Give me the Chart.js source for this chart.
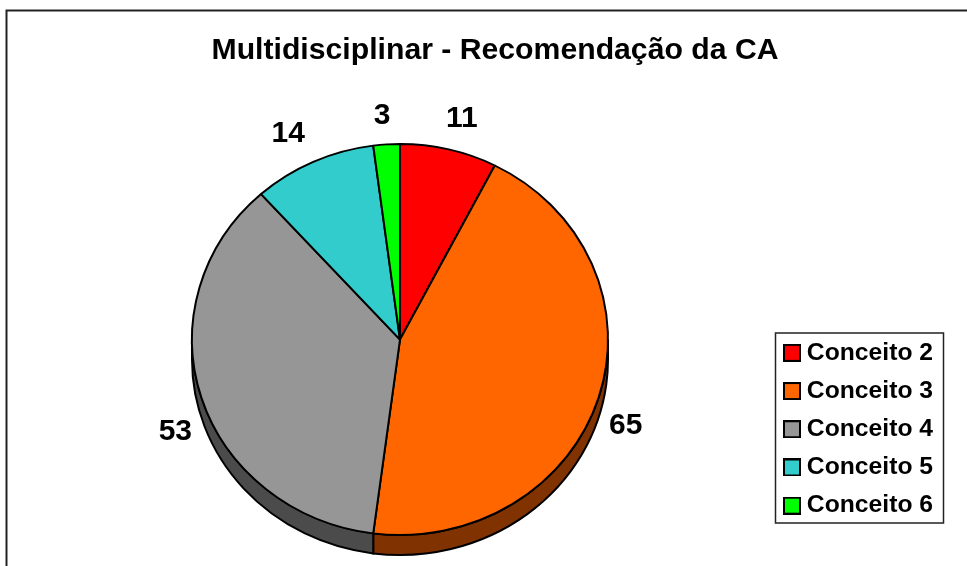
<!DOCTYPE html>
<html><head><meta charset="utf-8">
<style>html,body{margin:0;padding:0;background:#fff}#w{position:relative;width:967px;height:566px}canvas{display:block}</style>
<script src="https://cdn.jsdelivr.net/npm/chart.js@4"></script></head>
<body><div id="w"><canvas id="c" width="967" height="566"></canvas></div>
<script>
const categories=["Conceito 2","Conceito 3","Conceito 4","Conceito 5","Conceito 6"];
const values=[11,65,53,14,3];
const colors=["#ff0000","#ff6600","#969696","#33cccc","#00ff00"];
const darkColors=["#800000","#803300","#4b4b4b","#1a6666","#008000"];
const titleText="Multidisciplinar - Recomendação da CA";
const font='"Liberation Sans", Arial, sans-serif';
const labelOffsets=[[13,-31],[27,28.5],[-26,34.5],[-25,-28],[-4.5,-28.5]];
const depth=20, yScale=0.94;
function swatch(color){
  const c=document.createElement('canvas');c.width=18;c.height=18;
  const g=c.getContext('2d');
  g.fillStyle=color;g.fillRect(1,1,16,16);
  g.strokeStyle='#000';g.lineWidth=2;g.strokeRect(1,1,16,16);
  return c;
}
const decor={id:'decor',
 afterLayout(ch){
  const t=ch.titleBlock; t.left=145; t.right=845;
  const l=ch.legend; l.left=776; l.right=944; l.top=327; l.bottom=566;
 },
 beforeDraw(ch){
  const ctx=ch.ctx;
  ctx.save();
  ctx.strokeStyle='#222';ctx.lineWidth=2;
  ctx.beginPath();ctx.moveTo(6.5,566);ctx.lineTo(6.5,10.5);ctx.lineTo(967,10.5);ctx.stroke();
  ctx.lineWidth=1.5;ctx.strokeRect(775.5,333,168,190);
  ctx.restore();
 },
 beforeDatasetsDraw(ch){
  const a=ch.getDatasetMeta(0).data,ctx=ch.ctx;
  const {x,y,outerRadius:r}=a[0];
  ctx.save();
  a.forEach((e,i)=>{
    const s=Math.max(e.startAngle,0),t=Math.min(e.endAngle,Math.PI);
    if(t<=s)return;
    ctx.beginPath();
    ctx.ellipse(x,y,r,r*yScale,0,s,t);
    ctx.ellipse(x,y+depth,r,r*yScale,0,t,s,true);
    ctx.closePath();
    ctx.fillStyle=darkColors[i];ctx.fill();
    ctx.strokeStyle='#000';ctx.lineWidth=2;ctx.stroke();
  });
  ctx.restore();
  ctx.save();
  ctx.translate(0,y);ctx.scale(1,yScale);ctx.translate(0,-y);
 },
 afterDatasetsDraw(ch){
  const ctx=ch.ctx;ctx.restore();
  const a=ch.getDatasetMeta(0).data;
  ctx.save();
  ctx.fillStyle='#000';ctx.font='bold 30px '+font;
  ctx.textAlign='center';ctx.textBaseline='middle';
  const {x,y,outerRadius:r}=a[0];
  a.forEach((e,i)=>{
    const m=(e.startAngle+e.endAngle)/2;
    ctx.fillText(String(values[i]),x+Math.cos(m)*r+labelOffsets[i][0],y+Math.sin(m)*r*yScale+labelOffsets[i][1]);
  });
  ctx.restore();
 }};
new Chart(document.getElementById('c'),{
 type:'pie',
 data:{labels:categories,datasets:[{data:values,backgroundColor:colors,borderColor:'#000',borderWidth:2}]},
 options:{responsive:false,animation:false,rotation:0,
  layout:{padding:{left:191,right:358,top:10,bottom:17}},
  plugins:{
   title:{display:true,text:titleText,color:'#000',font:{family:font,weight:'bold',size:30.2,lineHeight:1.2},padding:{top:23,bottom:60.8}},
   legend:{display:true,position:'chartArea',align:'start',
    labels:{color:'#000',font:{family:font,weight:'bold',size:24.7,lineHeight:1.03},padding:13.5,
     usePointStyle:true,pointStyleWidth:5,boxHeight:15,
     generateLabels(ch){
       return Chart.overrides.pie.plugins.legend.labels.generateLabels(ch).map((it,i)=>Object.assign(it,{pointStyle:swatch(colors[i])}));
     }}},
   tooltip:{enabled:false}}},
 plugins:[decor]});
</script></body></html>
